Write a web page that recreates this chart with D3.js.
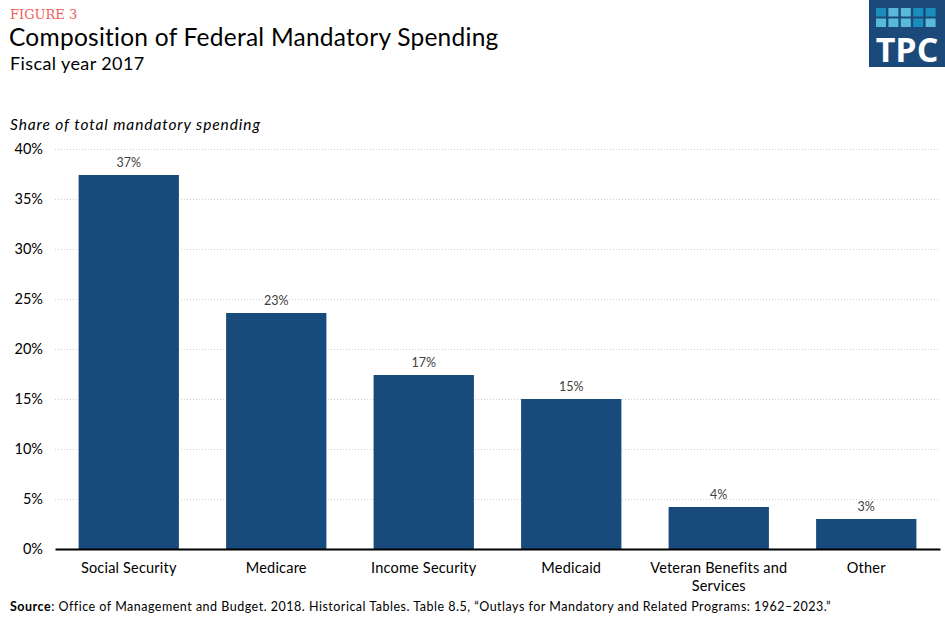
<!DOCTYPE html>
<html>
<head>
<meta charset="utf-8">
<script src="https://cdn.jsdelivr.net/npm/d3@7"></script>
<style>
  body { margin: 0; background: #fff; }
  svg { display: block; font-family: Lato, "Noto Sans", sans-serif; }
</style>
</head>
<body>
<script>
// chart values
var categories = ["Social Security", "Medicare", "Income Security", "Medicaid", "Veteran Benefits and Services", "Other"];
var shares = [37.4, 23.6, 17.4, 15.0, 4.2, 3.0];
var shareLabels = ["37%", "23%", "17%", "15%", "4%", "3%"];
var yTicks = [0, 5, 10, 15, 20, 25, 30, 35, 40];

var width = 945,
    height = 621,
    margin = {left: 55, right: 5, top: 149, bottom: 72};

var svg = d3.select("body").append("svg")
    .attr("width", width)
    .attr("height", height);

var x = d3.scaleBand()
    .domain(categories)
    .range([margin.left, width - margin.right])
    .paddingInner(0.32)
    .paddingOuter(0.16);

var y = d3.scaleLinear()
    .domain([0, 40])
    .range([height - margin.bottom, margin.top]);

// header
svg.append("text")
    .attr("x", 10).attr("y", 19)
    .style("font-family", "'DejaVu Serif', 'Liberation Serif', serif")
    .style("font-size", "13px")
    .style("fill", "#f0605a")
    .text("FIGURE 3");
svg.append("text")
    .attr("x", 9).attr("y", 46)
    .style("font-size", "24.5px")
    .style("letter-spacing", "0.25px")
    .style("fill", "#000")
    .text("Composition of Federal Mandatory Spending");
svg.append("text")
    .attr("x", 10).attr("y", 70)
    .style("font-size", "18px")
    .style("letter-spacing", "0.4px")
    .style("fill", "#000")
    .text("Fiscal year 2017");
svg.append("text")
    .attr("x", 10).attr("y", 130)
    .style("font-size", "15.5px")
    .style("font-style", "italic")
    .style("letter-spacing", "0.9px")
    .style("fill", "#000")
    .text("Share of total mandatory spending");

// logo
var logo = svg.append("g").attr("transform", "translate(869,0)");
logo.append("rect")
    .attr("width", 76).attr("height", 67)
    .attr("fill", "#1b4a7a");
var tileColors = [
    ["#1a8dbd", "#58bad8", "#58bad8", "#1a8dbd", "#1a8dbd"],
    ["#58bad8", "#58bad8", "#58bad8", "#1a8dbd", "#58bad8"]
];
tileColors.forEach(function (row, r) {
    row.forEach(function (c, i) {
        logo.append("rect")
            .attr("x", 7 + i * 12.4).attr("y", 8 + r * 10.5)
            .attr("width", 10).attr("height", 8.5)
            .attr("fill", c);
    });
});
logo.append("text")
    .attr("x", 38).attr("y", 62)
    .attr("text-anchor", "middle")
    .style("font-family", "'Open Sans', Lato, sans-serif")
    .style("font-weight", "bold")
    .style("font-size", "34px")
    .style("fill", "#fff")
    .text("TPC");

// gridlines
svg.append("g")
    .selectAll("line")
    .data(yTicks.filter(function (d) { return d > 0; }))
    .enter().append("line")
    .attr("x1", margin.left)
    .attr("x2", width - margin.right)
    .attr("y1", function (d) { return y(d) + 0.5; })
    .attr("y2", function (d) { return y(d) + 0.5; })
    .attr("stroke", "#cfcfcf")
    .attr("stroke-width", 1)
    .attr("stroke-dasharray", "1,2");

// y axis labels
var yAxis = d3.axisLeft(y)
    .tickValues(yTicks)
    .tickSize(0)
    .tickPadding(0)
    .tickFormat(function (d) { return d + "%"; });
var gy = svg.append("g")
    .attr("transform", "translate(43,0)")
    .call(yAxis);
gy.select(".domain").remove();
gy.selectAll("text")
    .style("font-family", "Lato, 'Noto Sans', sans-serif")
    .style("font-size", "14.5px")
    .style("fill", "#000");

// bars
svg.append("g")
    .selectAll("rect")
    .data(categories)
    .enter().append("rect")
    .attr("x", function (d) { return x(d); })
    .attr("y", function (d, i) { return y(shares[i]); })
    .attr("width", x.bandwidth())
    .attr("height", function (d, i) { return y(0) - y(shares[i]); })
    .attr("fill", "#184a7b");

// value labels
svg.append("g")
    .selectAll("text")
    .data(categories)
    .enter().append("text")
    .attr("x", function (d) { return x(d) + x.bandwidth() / 2; })
    .attr("y", function (d, i) { return y(shares[i]) - 8; })
    .attr("text-anchor", "middle")
    .style("font-size", "12.5px")
    .style("fill", "#404040")
    .text(function (d, i) { return shareLabels[i]; });

// x axis
var xAxis = d3.axisBottom(x).tickSize(0).tickPadding(0);
var gx = svg.append("g")
    .attr("transform", "translate(0," + y(0) + ")")
    .call(xAxis);
gx.select(".domain")
    .attr("stroke", "#000")
    .attr("stroke-width", 2);
gx.selectAll(".tick text").remove();
gx.selectAll(".tick").each(function (d) {
    var t = d3.select(this).append("text")
        .attr("text-anchor", "middle")
        .style("font-family", "Lato, 'Noto Sans', sans-serif")
        .style("font-size", "14.5px")
        .style("letter-spacing", "0.2px")
        .style("fill", "#000");
    var lines = d === "Veteran Benefits and Services" ? ["Veteran Benefits and", "Services"] : [d];
    lines.forEach(function (l, i) {
        t.append("tspan").attr("x", 0).attr("y", 24 + i * 18).text(l);
    });
});

// source
var src = svg.append("text")
    .attr("x", 10).attr("y", 611)
    .style("font-size", "12.5px")
    .style("letter-spacing", "0.5px")
    .style("fill", "#000");
src.append("tspan").style("font-weight", "bold").text("Source");
src.append("tspan").text(": Office of Management and Budget. 2018. Historical Tables. Table 8.5, \u201COutlays for Mandatory and Related Programs: 1962\u20132023.\u201D");
</script>
</body>
</html>
